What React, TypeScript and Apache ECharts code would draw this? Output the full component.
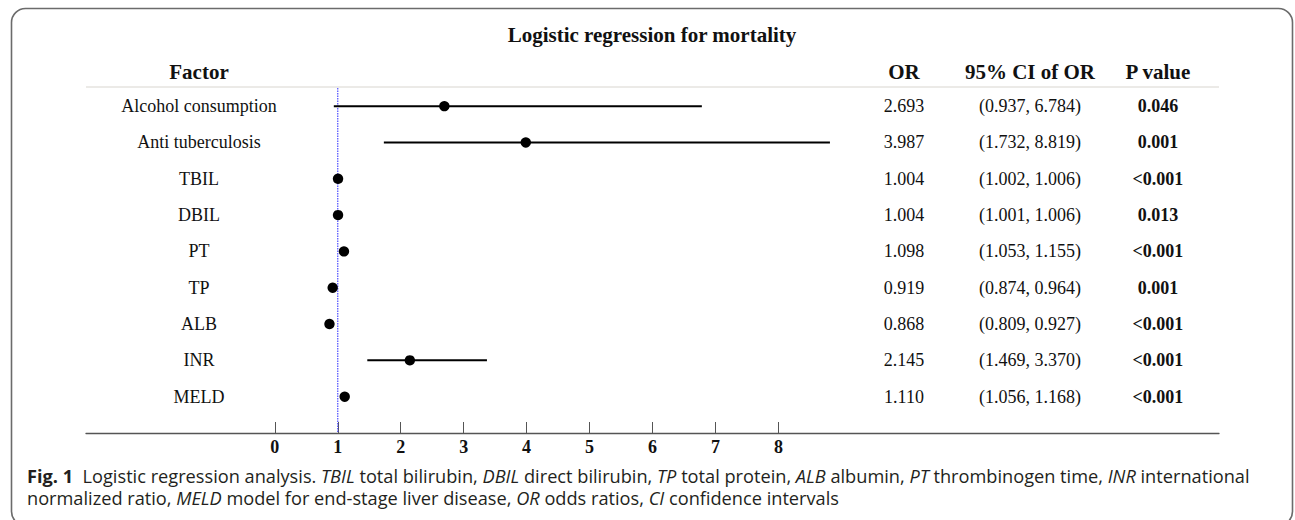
import React, { useEffect, useRef } from "react";
import * as echarts from "echarts";

const factors = [
  "Alcohol consumption",
  "Anti tuberculosis",
  "TBIL",
  "DBIL",
  "PT",
  "TP",
  "ALB",
  "INR",
  "MELD",
];
const orValues = [2.693, 3.987, 1.004, 1.004, 1.098, 0.919, 0.868, 2.145, 1.11];
const ciLow = [0.937, 1.732, 1.002, 1.001, 1.053, 0.874, 0.809, 1.469, 1.056];
const ciHigh = [6.784, 8.819, 1.006, 1.006, 1.155, 0.964, 0.927, 3.37, 1.168];
const orLabels = ["2.693", "3.987", "1.004", "1.004", "1.098", "0.919", "0.868", "2.145", "1.110"];
const ciLabels = [
  "(0.937, 6.784)",
  "(1.732, 8.819)",
  "(1.002, 1.006)",
  "(1.001, 1.006)",
  "(1.053, 1.155)",
  "(0.874, 0.964)",
  "(0.809, 0.927)",
  "(1.469, 3.370)",
  "(1.056, 1.168)",
];
const pLabels = ["0.046", "0.001", "<0.001", "0.013", "<0.001", "0.001", "<0.001", "<0.001", "<0.001"];
const tickValues = [0, 1, 2, 3, 4, 5, 6, 7, 8];
const refValue = 1;

const titleText = "Logistic regression for mortality";
const headers = ["Factor", "OR", "95% CI of OR", "P value"];
const captionLine1 =
  "{b|Fig. 1}  Logistic regression analysis. {i|TBIL} total bilirubin, {i|DBIL} direct bilirubin, {i|TP} total protein, {i|ALB} albumin, {i|PT} thrombinogen time, {i|INR} international";
const captionLine2 =
  "normalized ratio, {i|MELD} model for end-stage liver disease, {i|OR} odds ratios, {i|CI} confidence intervals";

const SERIF = "'Liberation Serif', 'Times New Roman', serif";
const SANS = "'Open Sans', 'Noto Sans', sans-serif";
const CAP_SIZE = 18.2;
const colX = [199, 904, 1030, 1158];

function txt(text: string, x: number, y: number, font: string, extra: any = {}) {
  return {
    type: "text",
    style: {
      text,
      x,
      y,
      font,
      fill: "#111",
      align: "center",
      verticalAlign: "middle",
      textAlign: "center",
      textVerticalAlign: "middle",
      ...extra,
    },
  };
}

function caption(text: string, y: number) {
  return {
    type: "text",
    style: {
      text,
      x: 27,
      y,
      font: `${CAP_SIZE}px ${SANS}`,
      fill: "#231f20",
      align: "left",
      verticalAlign: "middle",
      textAlign: "left",
      textVerticalAlign: "middle",
      rich: {
        b: { fontWeight: "bold", fontFamily: SANS, fontSize: CAP_SIZE, fill: "#231f20" },
        i: { fontStyle: "italic", fontFamily: SANS, fontSize: CAP_SIZE, fill: "#231f20" },
      },
    },
  };
}

export default function App() {
  const ref = useRef<HTMLDivElement>(null);
  useEffect(() => {
    if (!ref.current) return;
    const chart = echarts.init(ref.current, null, { renderer: "svg" });
    const rowFont = `18px ${SERIF}`;
    const rowBold = `bold 18px ${SERIF}`;
    const option: any = {
      animation: false,
      backgroundColor: "#fff",
      grid: { left: 86, right: 76, top: 88, bottom: 87 },
      xAxis: {
        type: "value",
        position: "bottom",
        min: -3,
        max: 15,
        interval: 1,
        splitLine: { show: false },
        axisLine: { show: true, onZero: false, lineStyle: { color: "#555", width: 1.3 } },
        axisTick: {
          show: true,
          inside: true,
          length: 11,
          customValues: tickValues,
          lineStyle: { color: "#555", width: 1 },
        },
        axisLabel: {
          customValues: tickValues,
          margin: 5,
          color: "#111",
          fontFamily: SERIF,
          fontWeight: "bold",
          fontSize: 18,
        },
      },
      yAxis: { type: "value", inverse: true, min: -0.5, max: 9, show: false },
      series: [
        {
          type: "line",
          z: 1,
          silent: true,
          symbol: "none",
          data: [
            [refValue, -0.5],
            [refValue, 9],
          ],
          lineStyle: { color: "#3a3aff", width: 1.1, type: [1.5, 1] },
        },
        {
          type: "custom",
          z: 2,
          clip: false,
          encode: { x: [1, 2, 3], y: 0 },
          data: factors.map((_, i) => [i, ciLow[i], ciHigh[i], orValues[i]]),
          renderItem: (params: any, api: any) => {
            const idx = params.dataIndex;
            const row = api.value(0);
            const lo = api.coord([api.value(1), row]);
            const hi = api.coord([api.value(2), row]);
            const pt = api.coord([api.value(3), row]);
            const y = pt[1];
            return {
              type: "group",
              children: [
                {
                  type: "line",
                  shape: { x1: lo[0], y1: y, x2: hi[0], y2: y },
                  style: { stroke: "#000", lineWidth: 2 },
                },
                {
                  type: "circle",
                  shape: { cx: pt[0], cy: y, r: 5.2 },
                  style: { fill: "#000" },
                },
                txt(factors[idx], colX[0], y, rowFont),
                txt(orLabels[idx], colX[1], y, rowFont),
                txt(ciLabels[idx], colX[2], y, rowFont),
                txt(pLabels[idx], colX[3], y, rowBold),
              ],
            };
          },
        },
      ],
      graphic: [
        {
          type: "rect",
          shape: { x: 11.5, y: 8.5, width: 1281, height: 517, r: 14 },
          style: { fill: "none", stroke: "#6b6b6b", lineWidth: 1.6 },
          silent: true,
        },
        {
          type: "line",
          shape: { x1: 86, y1: 87, x2: 1219, y2: 87 },
          style: { stroke: "#d8d5cf", lineWidth: 1 },
          silent: true,
        },
        txt(titleText, 652, 35, `bold 21px ${SERIF}`),
        ...headers.map((h, i) => txt(h, colX[i], 72, `bold 21px ${SERIF}`)),
        caption(captionLine1, 476),
        caption(captionLine2, 498),
      ],
    };
    chart.setOption(option);
    return () => chart.dispose();
  }, []);
  return (
    <div
      ref={ref}
      style={{ position: "fixed", left: 0, top: 0, width: 1295, height: 520, background: "#fff" }}
    />
  );
}
